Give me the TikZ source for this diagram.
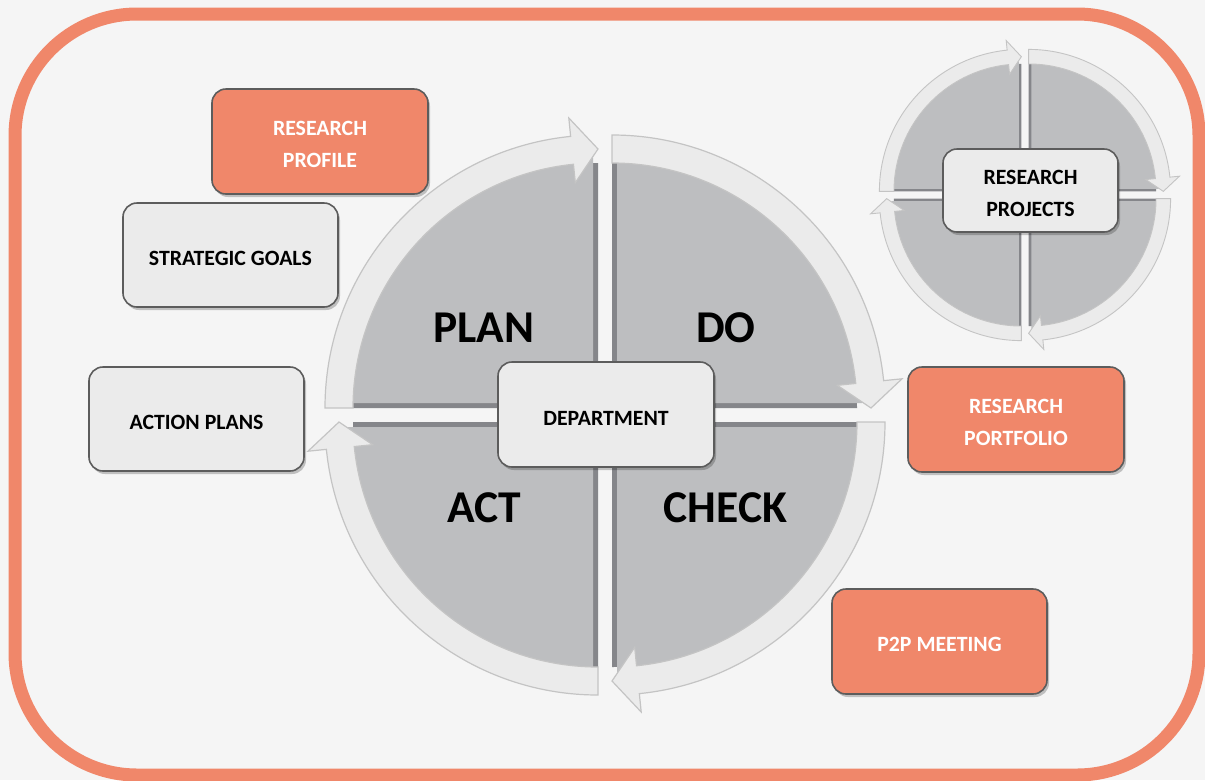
\documentclass[tikz,border=0pt]{standalone}
\usepackage{fontspec}
\setmainfont{Carlito}
\usetikzlibrary{shadows}
\definecolor{bg}{HTML}{F5F5F5}
\definecolor{orangec}{HTML}{F0876A}
\definecolor{boxgray}{HTML}{EBEBEB}
\definecolor{edgegray}{HTML}{5C5C5C}
\definecolor{piegray}{HTML}{BDBEC0}
\definecolor{piedark}{HTML}{85868A}
\definecolor{bandfill}{HTML}{EBEBEB}
\definecolor{bandline}{HTML}{C4C4C4}

% #1 = start angle of the quadrant (math angle), #2 = band outline width
\newcommand{\pdcaquadrant}[2]{%
  \fill[piedark] (0,0) -- (#1:245) arc[start angle=#1, end angle=#1-90, radius=245] -- cycle;
  \fill[piegray, shift={({#1-45}:7.07)}] (0,0) -- (#1:245) arc[start angle=#1, end angle=#1-90, radius=245] -- cycle;
  \filldraw[fill=bandfill, draw=bandline, line width=#2, line join=miter]
    (#1:273) arc[start angle=#1, end angle=#1-84.25, radius=273]
    -- ({#1-84.25}:291.5) -- ({#1-90}:259) -- ({#1-84.25}:226.5)
    -- ({#1-84.25}:245) arc[start angle=#1-84.25, end angle=#1, radius=245] -- cycle;
}

\tikzset{
  basebox/.style={rectangle, rounded corners=14pt, draw=edgegray, line width=1.6pt,
    inner sep=0pt,
    drop shadow={shadow xshift=2pt, shadow yshift=-3pt, opacity=0.22, fill=black}},
  graybox/.style={basebox, fill=boxgray},
  orangebox/.style={basebox, fill=orangec},
  boxtext/.style={align=center, inner sep=0pt, font=\fontsize{21.8}{32}\selectfont\bfseries, text=black},
  whitetext/.style={boxtext, text=white},
  phase/.style={font=\fontsize{45.5}{45.5}\selectfont\bfseries, text=black, inner sep=0pt}
}

\begin{document}
\begin{tikzpicture}[x=1pt, y=1pt]
\useasboundingbox (0,0) rectangle (1205,-780);
\fill[bg] (0,0) rectangle (1205,-780);
\draw[orangec, line width=13pt, rounded corners=122pt] (15,-14) rectangle (1199,-775);

% big PDCA circle
\begin{scope}[shift={(605,-415)}]
  \begin{scope}[shift={(-7,7)}]\pdcaquadrant{180}{1.2pt}\end{scope}
  \begin{scope}[shift={(7,7)}]\pdcaquadrant{90}{1.2pt}\end{scope}
  \begin{scope}[shift={(7,-7)}]\pdcaquadrant{0}{1.2pt}\end{scope}
  \begin{scope}[shift={(-7,-7)}]\pdcaquadrant{270}{1.2pt}\end{scope}
\end{scope}

% small circle
\begin{scope}[shift={(1025,-195)}, scale=0.52]
  \begin{scope}[shift={(-7,7)}]\pdcaquadrant{180}{0.9pt}\end{scope}
  \begin{scope}[shift={(7,7)}]\pdcaquadrant{90}{0.9pt}\end{scope}
  \begin{scope}[shift={(7,-7)}]\pdcaquadrant{0}{0.9pt}\end{scope}
  \begin{scope}[shift={(-7,-7)}]\pdcaquadrant{270}{0.9pt}\end{scope}
\end{scope}

\node[phase] (plan) at (484,-327.5) {PLAN};
\node[phase] (do) at (726,-328) {DO};
\node[phase] (act) at (484.5,-507.5) {ACT};
\node[phase] (check) at (725.5,-507.5) {CHECK};

\node[orangebox, minimum width=216pt, minimum height=105pt] (profile) at (320,-141.5) {};
\node[whitetext] (profile-t) at ([yshift=-2.5pt]profile.center) {RESEARCH\\PROFILE};
\node[graybox, minimum width=215pt, minimum height=104pt] (goals) at (230.5,-255) {};
\node[boxtext] (goals-t) at ([yshift=-3pt]goals.center) {STRATEGIC GOALS};
\node[graybox, minimum width=215pt, minimum height=104pt] (actions) at (196.5,-419) {};
\node[boxtext] (actions-t) at ([yshift=-3pt]actions.center) {ACTION PLANS};
\node[graybox, minimum width=216pt, minimum height=105pt] (dept) at (606,-414.5) {};
\node[boxtext] (dept-t) at ([yshift=-3.5pt]dept.center) {DEPARTMENT};
\node[orangebox, minimum width=216pt, minimum height=105pt] (portfolio) at (1016,-419.5) {};
\node[whitetext] (portfolio-t) at ([yshift=-3pt]portfolio.center) {RESEARCH\\PORTFOLIO};
\node[orangebox, minimum width=215pt, minimum height=105pt] (p2p) at (939.5,-641.5) {};
\node[whitetext] (p2p-t) at ([yshift=-3pt]p2p.center) {P2P MEETING};
\node[graybox, minimum width=175pt, minimum height=83pt] (projects) at (1030.5,-190.5) {};
\node[boxtext] (projects-t) at ([yshift=-3pt]projects.center) {RESEARCH\\PROJECTS};
\end{tikzpicture}
\end{document}
